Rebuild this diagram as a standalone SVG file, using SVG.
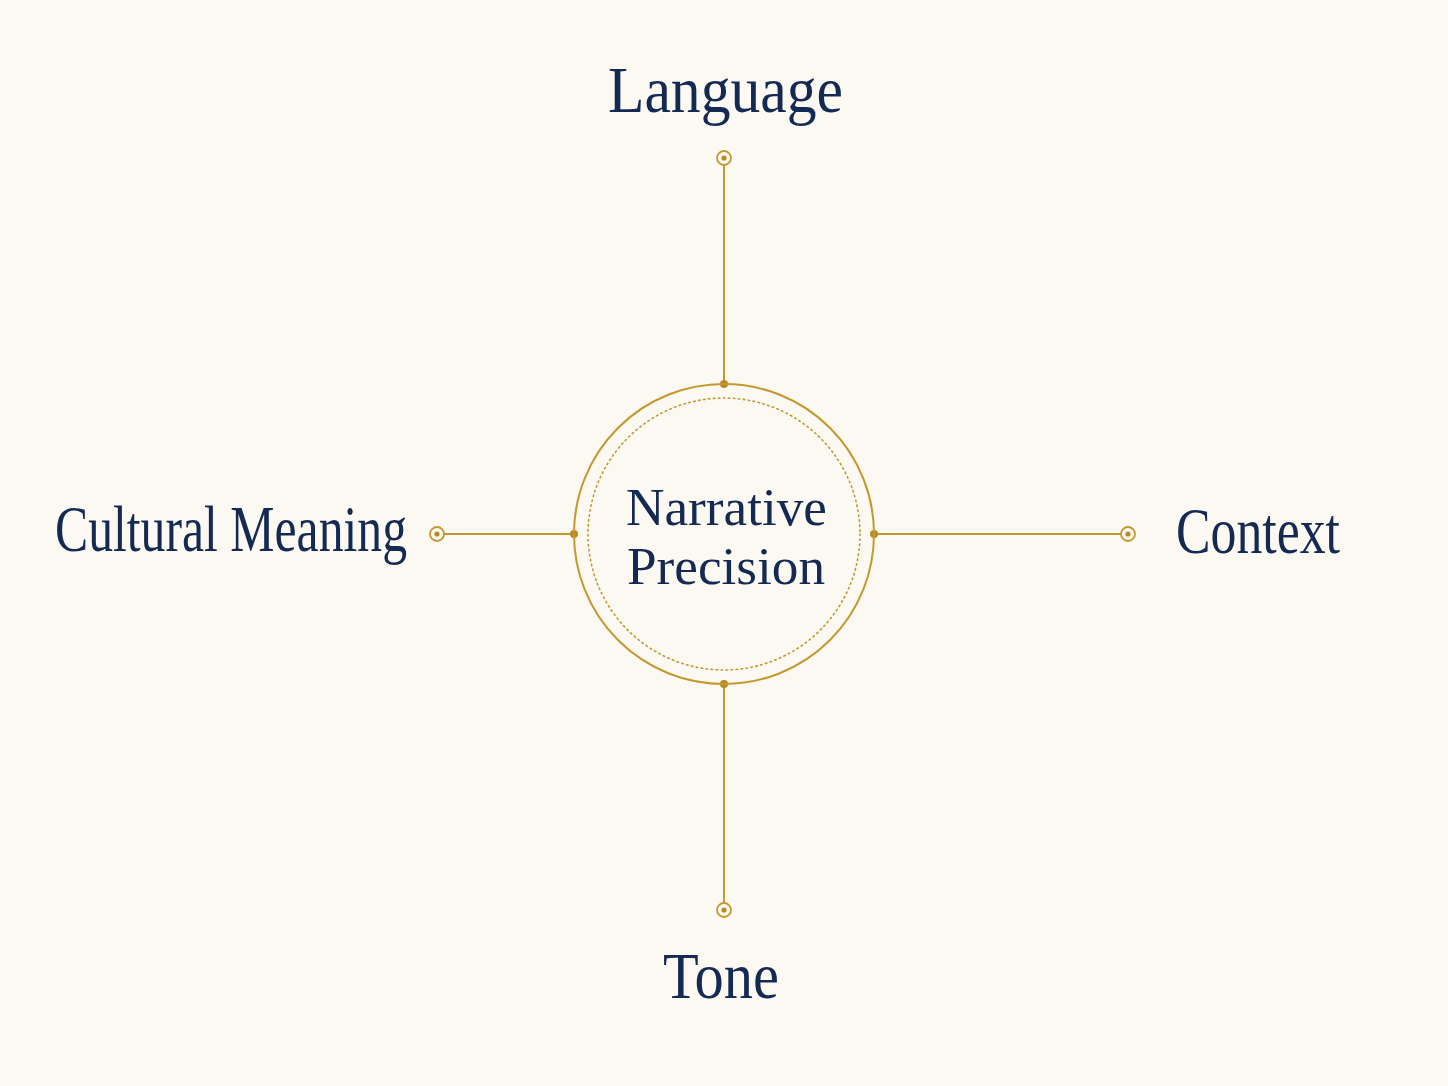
<svg xmlns="http://www.w3.org/2000/svg" width="1448" height="1086" viewBox="0 0 1448 1086">
<style>
.lbl{font-family:"Liberation Serif","DejaVu Serif",serif;fill:#152a52;}
.ln{stroke:#c4982e;stroke-width:2;fill:none;}
.ring{stroke:#c4982e;stroke-width:1.8;fill:#fcf9f3;}
.cap{fill:#b88a22;}
</style>
<rect width="1448" height="1086" fill="#fcf9f3"/>
<g id="connectors">
<line class="ln" x1="724" y1="165" x2="724" y2="384"/>
<line class="ln" x1="724" y1="684" x2="724" y2="903"/>
<line class="ln" x1="444" y1="534" x2="574" y2="534"/>
<line class="ln" x1="874" y1="534" x2="1121" y2="534"/>
<circle class="ring" cx="724" cy="158" r="7"/><circle class="cap" cx="724" cy="158" r="2.6"/>
<circle class="ring" cx="724" cy="910" r="7"/><circle class="cap" cx="724" cy="910" r="2.6"/>
<circle class="ring" cx="437" cy="534" r="7"/><circle class="cap" cx="437" cy="534" r="2.6"/>
<circle class="ring" cx="1128" cy="534" r="7"/><circle class="cap" cx="1128" cy="534" r="2.6"/>
<circle class="cap" cx="724" cy="384" r="4"/>
<circle class="cap" cx="724" cy="684" r="4"/>
<circle class="cap" cx="574" cy="534" r="4"/>
<circle class="cap" cx="874" cy="534" r="4"/>
</g>
<g id="center">
<circle cx="724" cy="534" r="150" fill="none" stroke="#c4982e" stroke-width="2"/>
<circle cx="724" cy="534" r="136" fill="none" stroke="#c4982e" stroke-width="1.6" stroke-dasharray="1.5 3.5" stroke-linecap="round"/>
<text class="lbl" x="626" y="525" font-size="52" textLength="201" lengthAdjust="spacingAndGlyphs">Narrative</text>
<text class="lbl" x="627" y="584" font-size="52" textLength="198" lengthAdjust="spacingAndGlyphs">Precision</text>
</g>
<g id="language"><text class="lbl" x="608" y="112" font-size="66" textLength="235" lengthAdjust="spacingAndGlyphs">Language</text></g>
<g id="cultural"><text class="lbl" x="55" y="551" font-size="65" textLength="352" lengthAdjust="spacingAndGlyphs">Cultural Meaning</text></g>
<g id="context"><text class="lbl" x="1176" y="553" font-size="65" textLength="164" lengthAdjust="spacingAndGlyphs">Context</text></g>
<g id="tone"><text class="lbl" x="663" y="998" font-size="65" textLength="116" lengthAdjust="spacingAndGlyphs">Tone</text></g>
</svg>
